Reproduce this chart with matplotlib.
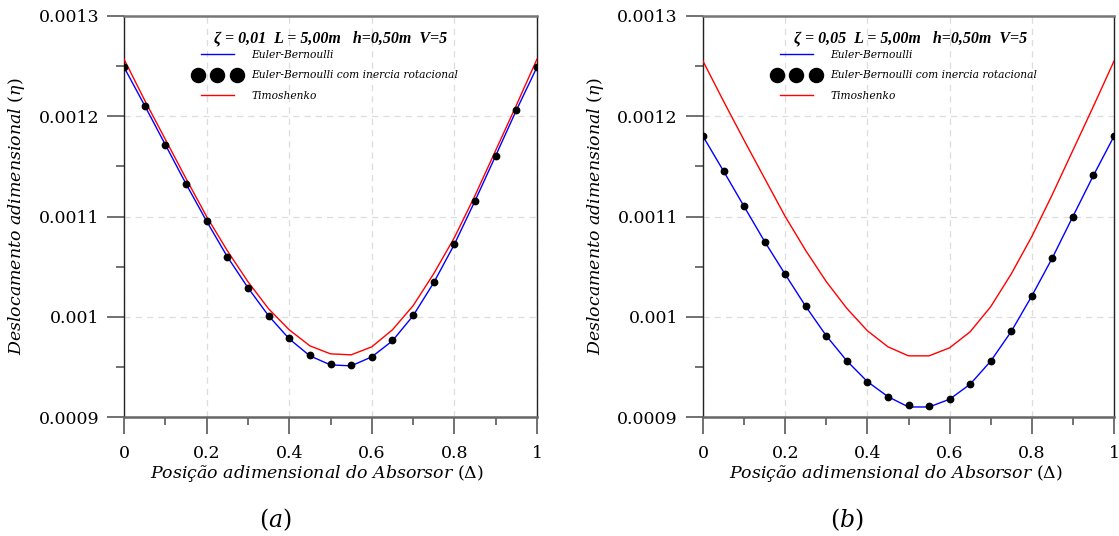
import matplotlib
matplotlib.use("Agg")
import matplotlib.pyplot as plt
from matplotlib.ticker import MultipleLocator, FixedLocator
from matplotlib.legend_handler import HandlerLine2D

# ---- data ----
delta = [0.00, 0.05, 0.10, 0.15, 0.20, 0.25, 0.30, 0.35, 0.40, 0.45, 0.50,
         0.55, 0.60, 0.65, 0.70, 0.75, 0.80, 0.85, 0.90, 0.95, 1.00]

eb_a = [0.001249, 0.0012107, 0.0011717, 0.0011327, 0.0010953, 0.001060, 0.001029,
        0.001001, 0.000978, 0.000961, 0.000952, 0.000951, 0.000960, 0.000976,
        0.001001, 0.001034, 0.0010723, 0.0011157, 0.0011607, 0.001206, 0.001249]
ebrot_a = [0.001249, 0.0012107, 0.0011717, 0.0011327, 0.0010953, 0.001060, 0.001029,
           0.001001, 0.000979, 0.000962, 0.000953, 0.000952, 0.000960, 0.000977,
           0.001002, 0.001035, 0.0010723, 0.0011157, 0.0011607, 0.001206, 0.001249]
timo_a = [0.001257, 0.001216, 0.001177, 0.001138, 0.0011, 0.001066, 0.001035,
          0.001008, 0.000987, 0.000971, 0.000963, 0.000962, 0.00097, 0.000987,
          0.001011, 0.001043, 0.001079, 0.001121, 0.001166, 0.001211, 0.001257]

eb_b = [0.00118, 0.0011453, 0.00111, 0.001075, 0.0010423, 0.0010103, 0.000981,
        0.000956, 0.0009353, 0.0009203, 0.000910, 0.000910, 0.0009177, 0.0009327,
        0.0009557, 0.0009853, 0.0010207, 0.0010587, 0.0011, 0.001141, 0.00118]
ebrot_b = [0.00118, 0.0011453, 0.00111, 0.001075, 0.0010423, 0.0010103, 0.000981,
           0.000956, 0.0009353, 0.0009203, 0.0009117, 0.0009107, 0.0009177, 0.0009327,
           0.0009557, 0.0009853, 0.0010207, 0.0010587, 0.0011, 0.001141, 0.00118]
timo_b = [0.001255, 0.001215, 0.001176, 0.001138, 0.0011, 0.001066, 0.001035,
          0.0010083, 0.000986, 0.00097, 0.000961, 0.000961, 0.000969, 0.000985,
          0.00101, 0.0010427, 0.00108, 0.001122, 0.001166, 0.00121, 0.001255]

titles = ["ζ = 0,01  L = 5,00m   h=0,50m  V=5", "ζ = 0,05  L = 5,00m   h=0,50m  V=5"]
captions = ["$(a)$", "$(b)$"]
labels = ["Euler-Bernoulli", "Euler-Bernoulli com inercia rotacional", "Timoshenko"]
xticks = [0, 0.2, 0.4, 0.6, 0.8, 1]
xticklabels = ["0", "0.2", "0.4", "0.6", "0.8", "1"]
yticks = [0.0009, 0.001, 0.0011, 0.0012, 0.0013]
yticklabels = ["0.0009", "0.001", "0.0011", "0.0012", "0.0013"]

plt.rcParams['font.family'] = 'DejaVu Serif'
plt.rcParams['mathtext.fontset'] = 'dejavuserif'

fig = plt.figure(figsize=(11.19, 5.36), dpi=100)
axes_pos = [[124/1119, 1-417/536, 413/1119, 401/536],
            [703/1119, 1-417/536, 411/1119, 401/536]]
cap_x = [275/1119, 847/1119]
title_x = [0.499, 0.504]
leg_x = [0.178, 0.179]
xlab_x = [0.467, 0.47]

series = [(eb_a, ebrot_a, timo_a), (eb_b, ebrot_b, timo_b)]

for i, (eb, ebr, tm) in enumerate(series):
    ax = fig.add_axes(axes_pos[i])
    ax.plot(delta, eb, color='#0000ff', lw=1.0, label=labels[0], zorder=3)
    dots, = ax.plot(delta, ebr, linestyle='none', marker='o', color='black',
                    markersize=4.6, label=labels[1], zorder=4)
    ax.plot(delta, tm, color='#ff0000', lw=1.0, label=labels[2], zorder=3)

    ax.set_xlim(0, 1)
    ax.set_ylim(0.0009, 0.0013)
    ax.xaxis.set_major_locator(FixedLocator(xticks))
    ax.set_xticklabels(xticklabels)
    ax.xaxis.set_minor_locator(MultipleLocator(0.1))
    ax.yaxis.set_major_locator(FixedLocator(yticks))
    ax.set_yticklabels(yticklabels)
    ax.yaxis.set_minor_locator(MultipleLocator(0.00005))

    ax.tick_params(which='major', direction='out', length=12, width=1.3,
                   color='#666666', labelsize=12.5)
    ax.tick_params(axis='x', which='major', pad=8)
    ax.tick_params(axis='y', which='major', pad=6)
    ax.tick_params(which='minor', direction='out', length=6, width=1.3,
                   color='#666666')
    ax.grid(True, which='major', linestyle=(0, (5, 4)), color='#dddddd', lw=0.9)
    ax.set_axisbelow(True)

    ax.spines['left'].set_color('#222222')
    ax.spines['left'].set_linewidth(1.0)
    ax.spines['right'].set_color('#222222')
    ax.spines['right'].set_linewidth(1.0)
    ax.spines['bottom'].set_color('#666666')
    ax.spines['bottom'].set_linewidth(1.8)
    ax.spines['top'].set_color('#777777')
    ax.spines['top'].set_linewidth(1.8)

    ax.set_xlabel("Posição adimensional do Absorsor $(\\Delta)$", fontsize=12.5,
                  style='italic', labelpad=3)
    ax.xaxis.set_label_coords(xlab_x[i], -0.115)
    ax.set_ylabel("Deslocamento adimensional $(\\eta)$", fontsize=12.5,
                  style='italic', labelpad=8)

    ax.text(title_x[i], (417-38)/401, titles[i], transform=ax.transAxes,
            ha='center', va='center', family='Liberation Serif',
            style='italic', weight='bold', fontsize=11.5, zorder=6)

    leg = ax.legend(loc='upper left', bbox_to_anchor=(leg_x[i], (417-50)/401),
                    frameon=False, numpoints=3, markerscale=2.2,
                    handlelength=3.7, handletextpad=1.35, labelspacing=0.98,
                    borderpad=0.0, borderaxespad=0.0,
                    prop={'style': 'italic', 'size': 7.7},
                    handler_map={dots: HandlerLine2D(marker_pad=0.0)})
    fig.text(cap_x[i], 1-520/536, captions[i], fontsize=17, ha='center', va='center')

fig.savefig("out.png", dpi=100)
